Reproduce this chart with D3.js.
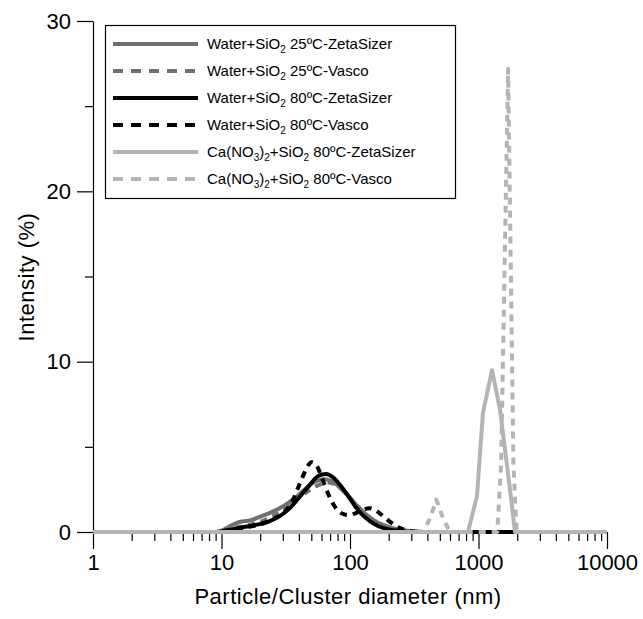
<!DOCTYPE html>
<html>
<head>
<meta charset="utf-8">
<title>Particle size distribution</title>
<style>
  body { margin: 0; background: #fff; }
  text { font-family: "Liberation Sans", Arial, sans-serif; fill: #000; }
</style>
</head>
<body>
<div id="chart"></div>
<script src="https://d3js.org/d3.v7.min.js"></script>
<script>
// diameter (nm) / intensity (%) pairs
var water25Zeta = [[1,0],[9,0],[10.5,0.15],[12,0.4],[14,0.6],[17,0.7],[20,0.9],[25,1.2],[30,1.5],[36,1.9],[43,2.4],[52,2.9],[63,3.1],[75,2.9],[89,2.4],[100,2.0],[115,1.5],[135,1.0],[160,0.6],[200,0.3],[250,0.12],[320,0.04],[400,0],[10000,0]];
var water25Vasco = [[1,0],[9.5,0],[12,0.2],[15,0.35],[19,0.55],[24,0.85],[30,1.3],[37,1.8],[45,2.3],[55,2.7],[67,2.9],[80,2.7],[95,2.2],[112,1.6],[130,1.1],[155,0.65],[190,0.3],[240,0.1],[300,0.02],[360,0],[10000,0]];
var water80Zeta = [[1,0],[9,0],[11,0.1],[14,0.25],[18,0.4],[23,0.6],[28,0.9],[34,1.4],[41,2.1],[49,2.8],[57,3.3],[65,3.4],[74,3.2],[85,2.7],[97,2.1],[110,1.5],[125,1.0],[142,0.65],[165,0.35],[200,0.15],[250,0.05],[320,0],[10000,0]];
var water80Vasco = [[1,0],[9,0],[12,0.1],[15,0.25],[20,0.45],[25,0.75],[30,1.1],[35,1.7],[40,2.7],[45,3.6],[50,4.1],[55,3.9],[61,3.1],[68,2.2],[76,1.5],[86,1.1],[97,1.0],[110,1.1],[125,1.3],[142,1.4],[160,1.25],[180,0.95],[205,0.6],[235,0.3],[270,0.12],[320,0.02],[380,0],[10000,0]];
var caZeta = [[1,0],[828,0],[973,2.1],[1083,7.0],[1274,9.5],[1469,7.2],[1759,2.5],[1923,0],[10000,0]];
var caVasco = [[1,0],[370,0],[420,0.8],[470,1.9],[530,0.8],[600,0],[1400,0],[1500,4],[1600,16],[1700,27.2],[1780,16],[1870,4],[1980,0],[10000,0]];

var seriesNames = [
  ["Water+SiO", "2", " 25\u00baC-ZetaSizer"],
  ["Water+SiO", "2", " 25\u00baC-Vasco"],
  ["Water+SiO", "2", " 80\u00baC-ZetaSizer"],
  ["Water+SiO", "2", " 80\u00baC-Vasco"],
  ["Ca(NO", "3", ")", "2", "+SiO", "2", " 80\u00baC-ZetaSizer"],
  ["Ca(NO", "3", ")", "2", "+SiO", "2", " 80\u00baC-Vasco"]
];
var seriesData = [water25Zeta, water25Vasco, water80Zeta, water80Vasco, caZeta, caVasco];
var seriesColors = ["#707070", "#707070", "#000000", "#000000", "#b4b4b4", "#b4b4b4"];
var seriesDashed = [false, true, false, true, false, true];

var xTicks = [1, 10, 100, 1000, 10000];
var yTicks = [0, 10, 20, 30];

var width = 643, height = 619;
var svg = d3.select("#chart").append("svg")
    .attr("width", width)
    .attr("height", height);

var x = d3.scaleLog().domain([1, 10000]).range([93, 607]);
var y = d3.scaleLinear().domain([0, 30]).range([532, 21]);

// minor ticks on log axis
var xMinor = [];
for (var dec = 1; dec < 10000; dec *= 10) {
    for (var k = 2; k < 10; k++) xMinor.push(dec * k);
}

svg.append("g")
    .attr("transform", "translate(0,532)")
    .call(d3.axisBottom(x).tickValues(xMinor).tickSize(9).tickFormat(""))
    .call(function(g) { g.select(".domain").remove(); });

var xAxis = svg.append("g")
    .attr("transform", "translate(0,532)")
    .call(d3.axisBottom(x).tickValues(xTicks).tickSize(17).tickSizeOuter(0)
        .tickFormat(d3.format("d")));
xAxis.selectAll("text").attr("font-size", 22).attr("dy", "0.71em").attr("y", 22);

svg.append("g")
    .attr("transform", "translate(93,0)")
    .call(d3.axisLeft(y).tickValues([5, 15, 25]).tickSize(8).tickFormat(""))
    .call(function(g) { g.select(".domain").remove(); });

var yAxis = svg.append("g")
    .attr("transform", "translate(93,0)")
    .call(d3.axisLeft(y).tickValues(yTicks).tickSize(16).tickSizeOuter(0));
yAxis.selectAll("text").attr("font-size", 22).attr("x", -22);

svg.selectAll(".domain, .tick line").attr("stroke", "#000").attr("stroke-width", 1.2);

// axis titles
svg.append("text")
    .attr("x", 348).attr("y", 604)
    .attr("text-anchor", "middle")
    .attr("font-size", 22)
    .attr("letter-spacing", 0.5)
    .text("Particle/Cluster diameter (nm)");

svg.append("text")
    .attr("transform", "translate(34,277) rotate(-90)")
    .attr("text-anchor", "middle")
    .attr("font-size", 22)
    .attr("letter-spacing", 0.5)
    .text("Intensity (%)");

// curves
var line = d3.line()
    .x(function(d) { return x(d[0]); })
    .y(function(d) { return y(d[1]); });

seriesData.forEach(function(data, i) {
    svg.append("path")
        .datum(data)
        .attr("fill", "none")
        .attr("stroke", seriesColors[i])
        .attr("stroke-width", 4)
        .attr("stroke-linejoin", "round")
        .attr("stroke-dasharray", seriesDashed[i] ? "7,6" : null)
        .attr("d", line.curve(i < 4 ? d3.curveMonotoneX : d3.curveLinear));
});

// legend
var legend = svg.append("g");
legend.append("rect")
    .attr("x", 105.5).attr("y", 25.5)
    .attr("width", 350).attr("height", 173)
    .attr("fill", "#fff")
    .attr("stroke", "#000")
    .attr("stroke-width", 1.2);

seriesNames.forEach(function(parts, i) {
    var yy = 44 + i * 27;
    legend.append("line")
        .attr("x1", 113).attr("x2", 198)
        .attr("y1", yy).attr("y2", yy)
        .attr("stroke", seriesColors[i])
        .attr("stroke-width", 4)
        .attr("stroke-dasharray", seriesDashed[i] ? "10,8" : null);
    var t = legend.append("text")
        .attr("x", 207).attr("y", yy + 5)
        .attr("font-size", 15);
    parts.forEach(function(p, j) {
        var isSub = /^[0-9]$/.test(p);
        t.append("tspan")
            .attr("font-size", isSub ? 10 : 15)
            .attr("dy", isSub ? 4 : (j > 0 && /^[0-9]$/.test(parts[j - 1]) ? -4 : 0))
            .text(p);
    });
});
</script>
</body>
</html>
